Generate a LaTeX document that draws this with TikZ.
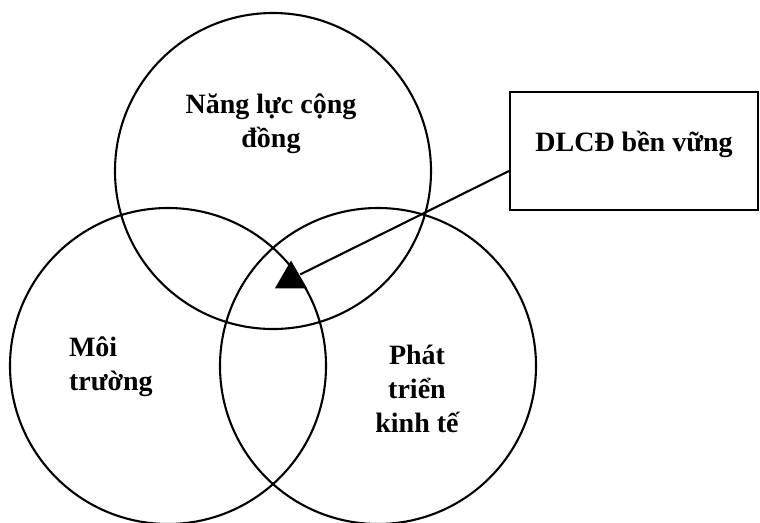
\documentclass[tikz,border=0pt]{standalone}
\usepackage{fontspec}
\setmainfont{Liberation Serif}
\usetikzlibrary{positioning,shapes.geometric}

\begin{document}
\begin{tikzpicture}[x=1pt,y=-1pt,line width=2.1pt,
  ring/.style={draw,circle,minimum size=316pt,inner sep=0pt},
  lbl/.style={font=\bfseries\fontsize{28}{34}\selectfont,inner sep=0pt},
  notebox/.style={draw,rectangle,minimum width=248pt,minimum height=118pt,
    inner sep=0pt,text height=19pt,text depth=19pt},
  tipmark/.style={regular polygon,regular polygon sides=3,fill,
    inner sep=0pt,minimum size=37pt}]

  \useasboundingbox (0,0) rectangle (760,522);

  \node[ring] (top) at (273,171) {};
  \node[ring] (left) at (168,366) {};
  \node[ring] (right) at (378,366) {};

  \node[lbl,align=center] (nlcd) at (271,124) {Năng lực cộng\\đồng};
  \node[lbl,align=left,anchor=west] (mt) at (68,367) {Môi\\trường};
  \node[lbl,align=center] (ptkt) at (417,389) {Phát\\triển\\kinh tế};

  \node[notebox,lbl] (dlcd) at (634,151) {DLCĐ bền vững};
  \node[tipmark] (tip) at (291,279) {};

  \draw ([yshift=-20pt]dlcd.west) -- (tip);
\end{tikzpicture}
\end{document}
